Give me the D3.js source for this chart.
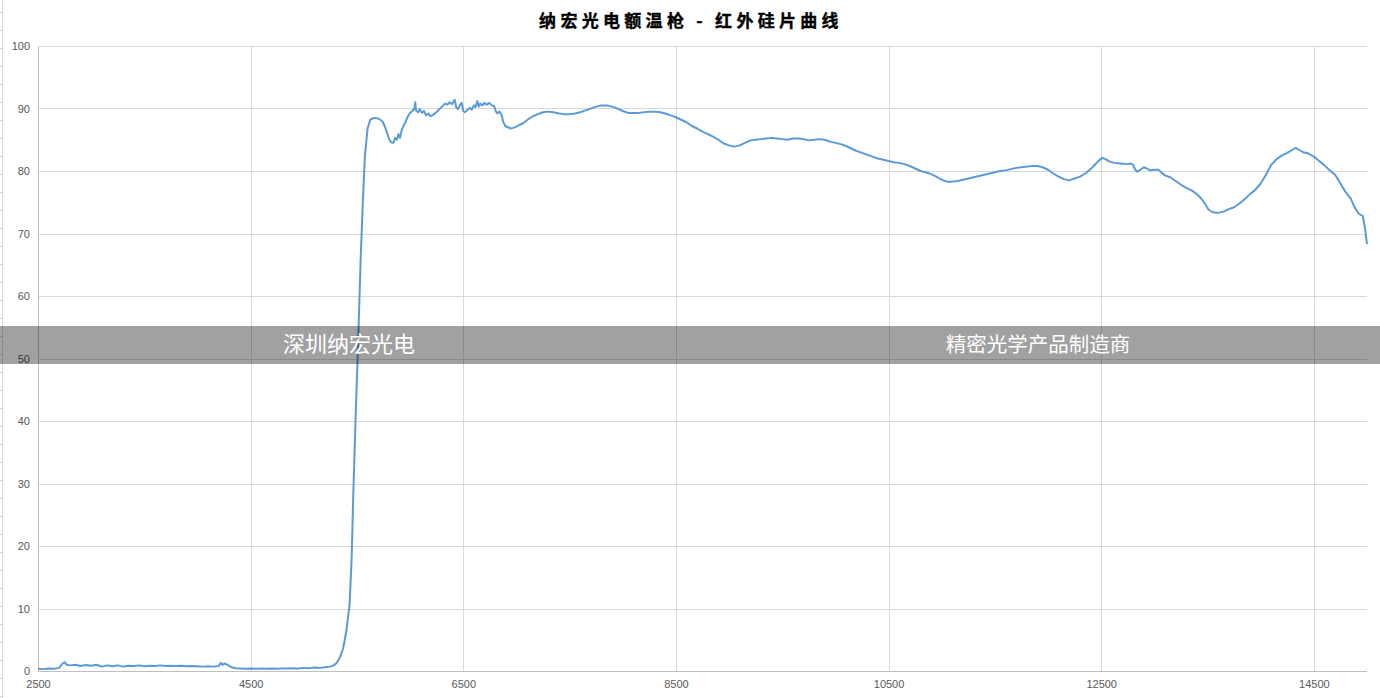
<!DOCTYPE html>
<html>
<head>
<meta charset="utf-8">
<script src="https://cdn.jsdelivr.net/npm/d3@7"></script>
<style>
  html, body { margin: 0; padding: 0; background: #fff; }
  svg { display: block; font-family: "Noto Sans CJK SC", "Noto Sans", sans-serif; }
</style>
</head>
<body>
<svg id="chart" width="1380" height="698"></svg>
<script>
// Chart title and banner texts
const chartTitle = "纳宏光电额温枪 - 红外硅片曲线";
const bannerLeft = "深圳纳宏光电";
const bannerRight = "精密光学产品制造商";

// Axis ticks
const xTicks = [2500, 4500, 6500, 8500, 10500, 12500, 14500];
const yTicks = [0, 10, 20, 30, 40, 50, 60, 70, 80, 90, 100];

// Wavelength (nm) and transmittance (%) samples
const wavelength = [
  2500, 2550, 2600, 2650, 2700, 2730, 2750, 2770, 2800, 2850, 2900, 2950, 3000, 3050, 3100, 3150,
  3200, 3250, 3300, 3350, 3400, 3450, 3500, 3550, 3600, 3650, 3700, 3750, 3800, 3850, 3900, 3950,
  4000, 4050, 4100, 4150, 4200, 4220, 4235, 4260, 4290, 4320, 4360, 4400, 4450, 4500, 4550, 4600,
  4650, 4700, 4750, 4800, 4850, 4900, 4950, 5000, 5050, 5100, 5150, 5200, 5250, 5280, 5310, 5340,
  5370, 5400, 5430, 5450, 5465, 5490, 5510, 5535, 5555, 5575, 5600, 5625, 5660, 5700, 5720, 5745,
  5765, 5785, 5800, 5820, 5842, 5860, 5875, 5890, 5905, 5920, 5940, 5955, 5975, 5995, 6020, 6040,
  6048, 6055, 6075, 6090, 6110, 6130, 6150, 6170, 6190, 6210, 6240, 6270, 6300, 6330, 6350, 6370,
  6395, 6420, 6435, 6450, 6470, 6485, 6500, 6515, 6540, 6560, 6580, 6600, 6615, 6632, 6645, 6660,
  6680, 6700, 6720, 6745, 6770, 6790, 6805, 6820, 6840, 6860, 6875, 6895, 6920, 6945, 6970, 7000,
  7030, 7060, 7090, 7120, 7160, 7200, 7250, 7300, 7350, 7400, 7450, 7500, 7550, 7600, 7650, 7700,
  7750, 7800, 7850, 7900, 7950, 8000, 8050, 8100, 8150, 8200, 8250, 8300, 8350, 8400, 8450, 8500,
  8550, 8600, 8650, 8700, 8750, 8800, 8850, 8900, 8950, 9000, 9050, 9100, 9150, 9200, 9250, 9300,
  9350, 9400, 9450, 9500, 9550, 9600, 9650, 9700, 9750, 9800, 9850, 9900, 9950, 10000, 10050, 10100,
  10150, 10200, 10250, 10300, 10350, 10400, 10450, 10500, 10550, 10600, 10650, 10700, 10750, 10800, 10850, 10900,
  10950, 11000, 11050, 11100, 11150, 11200, 11250, 11300, 11350, 11400, 11450, 11500, 11550, 11600, 11650, 11700,
  11750, 11800, 11850, 11900, 11950, 12000, 12050, 12100, 12150, 12200, 12250, 12300, 12350, 12400, 12440, 12480,
  12510, 12540, 12580, 12620, 12680, 12740, 12780, 12800, 12820, 12840, 12870, 12900, 12930, 12960, 13000, 13040,
  13070, 13100, 13150, 13200, 13250, 13300, 13350, 13400, 13440, 13480, 13510, 13550, 13600, 13650, 13700, 13750,
  13800, 13850, 13900, 13950, 14000, 14050, 14100, 14150, 14200, 14250, 14300, 14330, 14360, 14400, 14450, 14500,
  14550, 14600, 14650, 14700, 14750, 14800, 14850, 14880, 14920, 14960, 14980, 15000
];
const transmittance = [
  0.35, 0.3, 0.4, 0.35, 0.5, 1.2, 1.4, 1.0, 0.9, 1.0, 0.8, 0.95, 0.85, 1.0, 0.7, 0.9,
  0.75, 0.9, 0.7, 0.85, 0.8, 0.9, 0.75, 0.85, 0.8, 0.9, 0.8, 0.85, 0.8, 0.85, 0.75, 0.8,
  0.75, 0.7, 0.75, 0.7, 0.8, 1.3, 1.0, 1.2, 0.9, 0.6, 0.45, 0.4, 0.35, 0.4, 0.35, 0.4,
  0.35, 0.4, 0.35, 0.4, 0.4, 0.45, 0.4, 0.5, 0.45, 0.55, 0.5, 0.6, 0.7, 0.9, 1.3, 2.2,
  3.6, 6.4, 10.5, 18, 28, 42, 52, 66, 75, 82.5, 86.8, 88.2, 88.5, 88.4, 88.2, 87.8,
  87.0, 86.0, 85.2, 84.6, 84.5, 85.3, 85.0, 85.9, 85.3, 86.5, 87.3, 87.8, 88.6, 89.2, 89.6, 90.0,
  91.0, 89.7, 89.4, 89.9, 89.3, 89.6, 88.9, 89.2, 88.8, 88.9, 89.3, 89.8, 90.3, 90.8, 90.6, 91.0,
  90.7, 91.4, 90.1, 89.9, 90.6, 90.9, 89.6, 89.4, 89.8, 90.1, 89.8, 90.5, 90.2, 91.2, 90.3, 90.8,
  90.5, 90.9, 90.6, 90.9, 90.5, 90.4, 89.6, 89.2, 89.5, 89.0, 87.9, 87.2, 87.0, 86.8, 86.9, 87.1,
  87.4, 87.6, 88.0, 88.4, 88.8, 89.1, 89.4, 89.5, 89.4, 89.2, 89.1, 89.1, 89.2, 89.4, 89.7, 90.0,
  90.3, 90.5, 90.5, 90.3, 90.0, 89.6, 89.3, 89.3, 89.3, 89.4, 89.5, 89.5, 89.4, 89.2, 88.9, 88.6,
  88.2, 87.8, 87.2, 86.8, 86.3, 85.9, 85.5, 85.0, 84.4, 84.1, 83.9, 84.1, 84.5, 84.9, 85.0, 85.1,
  85.2, 85.3, 85.2, 85.1, 85.0, 85.2, 85.2, 85.1, 84.9, 85.0, 85.1, 85.0, 84.7, 84.5, 84.3, 84.0,
  83.6, 83.2, 82.9, 82.6, 82.3, 82.0, 81.8, 81.6, 81.4, 81.3, 81.1, 80.8, 80.4, 80.0, 79.8, 79.5,
  79.1, 78.6, 78.3, 78.3, 78.4, 78.6, 78.8, 79.0, 79.2, 79.4, 79.6, 79.8, 80.0, 80.1, 80.3, 80.5,
  80.6, 80.7, 80.8, 80.8, 80.6, 80.2, 79.6, 79.1, 78.7, 78.5, 78.8, 79.1, 79.6, 80.3, 81.0, 81.7,
  82.1, 81.9, 81.5, 81.3, 81.2, 81.1, 81.2, 81.0, 80.2, 79.9, 80.2, 80.6, 80.4, 80.1, 80.2, 80.2,
  79.7, 79.3, 79.0, 78.4, 77.8, 77.3, 76.9, 76.3, 75.6, 74.7, 73.8, 73.4, 73.3, 73.5, 73.9, 74.2,
  74.8, 75.5, 76.3, 77.0, 78.0, 79.4, 81.0, 81.9, 82.5, 82.9, 83.4, 83.7, 83.4, 83.0, 82.8, 82.3,
  81.6, 80.9, 80.1, 79.4, 78.0, 76.6, 75.5, 74.3, 73.2, 72.8, 71.0, 68.3
];

const svg = d3.select("#chart");
const W = 1380, H = 698;
const plot = { left: 38, right: 1367, top: 46, bottom: 671 };

const x = d3.scaleLinear().domain([2500, 15000]).range([plot.left, plot.right]);
const y = d3.scaleLinear().domain([0, 100]).range([plot.bottom, plot.top]);

const gridColor = "#d9d9d9";
const labelColor = "#595959";

// Sheet ruler on the far left edge
const ruler = svg.append("g");
ruler.append("line")
  .attr("x1", 2.5).attr("x2", 2.5).attr("y1", 0).attr("y2", H)
  .attr("stroke", "#dcdcdc").attr("stroke-width", 1);
ruler.selectAll("line.rt")
  .data(d3.range(12, H, 18))
  .join("line").attr("class", "rt")
  .attr("x1", 0).attr("x2", 3)
  .attr("y1", d => d + 0.5).attr("y2", d => d + 0.5)
  .attr("stroke", "#d4d4d4");

// Horizontal gridlines
svg.append("g")
  .selectAll("line")
  .data(yTicks)
  .join("line")
  .attr("x1", plot.left).attr("x2", plot.right)
  .attr("y1", d => Math.round(y(d)) + 0.5).attr("y2", d => Math.round(y(d)) + 0.5)
  .attr("stroke", gridColor).attr("stroke-width", 1);

// Vertical gridlines
svg.append("g")
  .selectAll("line")
  .data(xTicks)
  .join("line")
  .attr("x1", d => Math.round(x(d)) + 0.5).attr("x2", d => Math.round(x(d)) + 0.5)
  .attr("y1", plot.top).attr("y2", plot.bottom)
  .attr("stroke", d => d === 2500 ? "#bfbfbf" : gridColor).attr("stroke-width", 1);

// Axis tick labels
const xAxis = d3.axisBottom(x).tickValues(xTicks).tickSize(0).tickPadding(9).tickFormat(d3.format("d"));
const yAxis = d3.axisLeft(y).tickValues(yTicks).tickSize(0).tickPadding(8).tickFormat(d3.format("d"));

const gx = svg.append("g").attr("transform", `translate(0,${plot.bottom})`).call(xAxis);
const gy = svg.append("g").attr("transform", `translate(${plot.left},0)`).call(yAxis);
[gx, gy].forEach(g => {
  g.select(".domain").remove();
  g.selectAll("text")
    .attr("fill", labelColor)
    .style("font-family", "'Liberation Sans', 'DejaVu Sans', sans-serif")
    .style("font-size", "11px");
});
gx.append("line")
  .attr("x1", plot.left).attr("x2", plot.right).attr("y1", 0.5).attr("y2", 0.5)
  .attr("stroke", "#bfbfbf");

// Transmittance curve
const points = wavelength.map((w, i) => [w, transmittance[i]]);
const line = d3.line().x(d => x(d[0])).y(d => y(d[1]));
svg.append("path")
  .datum(points)
  .attr("d", line)
  .attr("fill", "none")
  .attr("stroke", "#5b9bd5")
  .attr("stroke-width", 2)
  .attr("stroke-linejoin", "round");

// Title
svg.append("text")
  .attr("x", 691).attr("y", 27)
  .attr("text-anchor", "middle")
  .attr("fill", "#000")
  .attr("stroke", "#000")
  .attr("stroke-width", 0.35)
  .style("font-family", "'Noto Sans CJK SC', sans-serif")
  .style("font-size", "17px")
  .style("font-weight", "bold")
  .style("letter-spacing", "4.3px")
  .text(chartTitle);

// Translucent banner across the chart
const banner = svg.append("g");
banner.append("rect")
  .attr("x", 0).attr("y", 326).attr("width", W).attr("height", 38)
  .attr("fill", "rgba(0,0,0,0.37)");
banner.append("text")
  .attr("x", 349).attr("y", 352)
  .attr("text-anchor", "middle")
  .attr("fill", "#fff")
  .style("font-family", "'Noto Sans CJK SC', sans-serif")
  .style("font-size", "22px")
  .text(bannerLeft);
banner.append("text")
  .attr("x", 1038).attr("y", 352)
  .attr("text-anchor", "middle")
  .attr("fill", "#fff")
  .style("font-family", "'Noto Sans CJK SC', sans-serif")
  .style("font-size", "20.5px")
  .text(bannerRight);
</script>
</body>
</html>
